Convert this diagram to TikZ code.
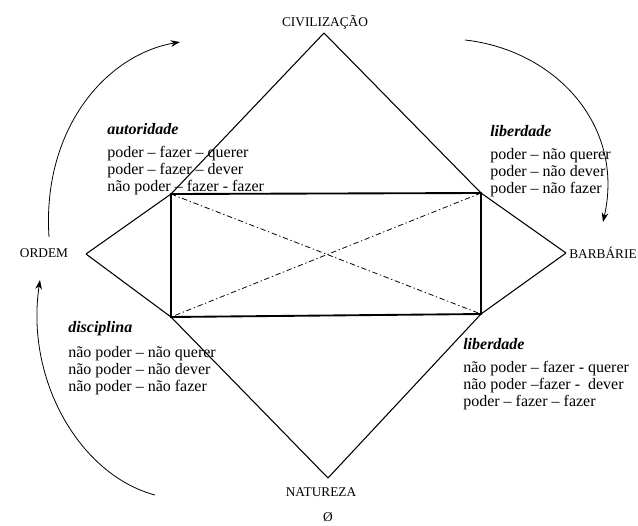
\documentclass[tikz,border=0pt]{standalone}
\usepackage{fontspec}
\setmainfont{Liberation Serif}
\usetikzlibrary{arrows.meta}
\begin{document}
\begin{tikzpicture}[x=0.75pt,y=-0.75pt,
 edge/.style={line width=0.8pt},
 box/.style={line width=1.4pt},
 diag/.style={line width=0.6pt, dash pattern=on 4pt off 2pt on 1pt off 2pt},
 cyclearrow/.style={line width=0.6pt,-{Stealth[length=7pt,width=5pt]}},
 pole/.style={font=\fontsize{10}{12}\selectfont, inner sep=0pt},
 head/.style={font=\fontsize{12}{14}\selectfont\bfseries\itshape, anchor=base west, inner sep=0pt},
 line/.style={font=\fontsize{12}{14}\selectfont, anchor=base west, inner sep=0pt}]
\useasboundingbox (0,0) rectangle (638,525);
% vertices
\coordinate (cT) at (324,33);
\coordinate (cL) at (86,254);
\coordinate (cR) at (566,253);
\coordinate (cB) at (328,478);
\coordinate (rTL) at (171,194);
\coordinate (rTR) at (481,193);
\coordinate (rBR) at (481,314);
\coordinate (rBL) at (171,317);
% outer shape
\draw[edge] (cT) -- (rTL) (cT) -- (rTR);
\draw[edge] (cL) -- (rTL) (cL) -- (rBL);
\draw[edge] (cR) -- (rTR) (cR) -- (rBR);
\draw[edge] (cB) -- (rBL) (cB) -- (rBR);
% rectangle and diagonals
\draw[box] (rTL) -- (rTR) -- (rBR) -- (rBL) -- cycle;
\draw[diag] (rTL) -- (rBR);
\draw[diag] (rTR) -- (rBL);
% poles
\node[pole] (civ) at (325,22) {CIVILIZAÇÃO};
\node[pole] (ord) at (44,253) {ORDEM};
\node[pole] (bar) at (603,253) {BARBÁRIE};
\node[pole] (nat) at (321,492) {NATUREZA};
\node[pole] (empty) at (328,517) {Ø};
% text blocks
\node[head] (auh) at (107,134) {autoridade};
\node[line] (au1) at (107,157) {poder – fazer – querer};
\node[line] (au2) at (107,174) {poder – fazer – dever};
\node[line] (au3) at (107,191) {não poder – fazer - fazer};
\node[head] (lih) at (490,136) {liberdade};
\node[line] (li1) at (490,159) {poder – não querer};
\node[line] (li2) at (490,176) {poder – não dever};
\node[line] (li3) at (490,193) {poder – não fazer};
\node[head] (dih) at (68,332) {disciplina};
\node[line] (di1) at (68,357) {não poder – não querer};
\node[line] (di2) at (68,374) {não poder – não dever};
\node[line] (di3) at (68,391) {não poder – não fazer};
\node[head] (lbh) at (463,349) {liberdade};
\node[line] (lb1) at (463,372) {não poder – fazer - querer};
\node[line] (lb2) at (463,389) {não poder –fazer -\ \ dever};
\node[line] (lb3) at (463,406) {poder – fazer – fazer};
% cycle arrows
\coordinate (a1s) at (49,237);
\coordinate (a1e) at (180,42);
\coordinate (a2s) at (465,40);
\coordinate (a2e) at (603,222);
\coordinate (a3s) at (155,495);
\coordinate (a3e) at (40,280);
\draw[cyclearrow] (a1s) .. controls (42,130) and (105,55) .. (a1e);
\draw[cyclearrow] (a2s) .. controls (555,50) and (625,125) .. (a2e);
\draw[cyclearrow] (a3s) .. controls (80,475) and (25,380) .. (a3e);
\end{tikzpicture}
\end{document}
